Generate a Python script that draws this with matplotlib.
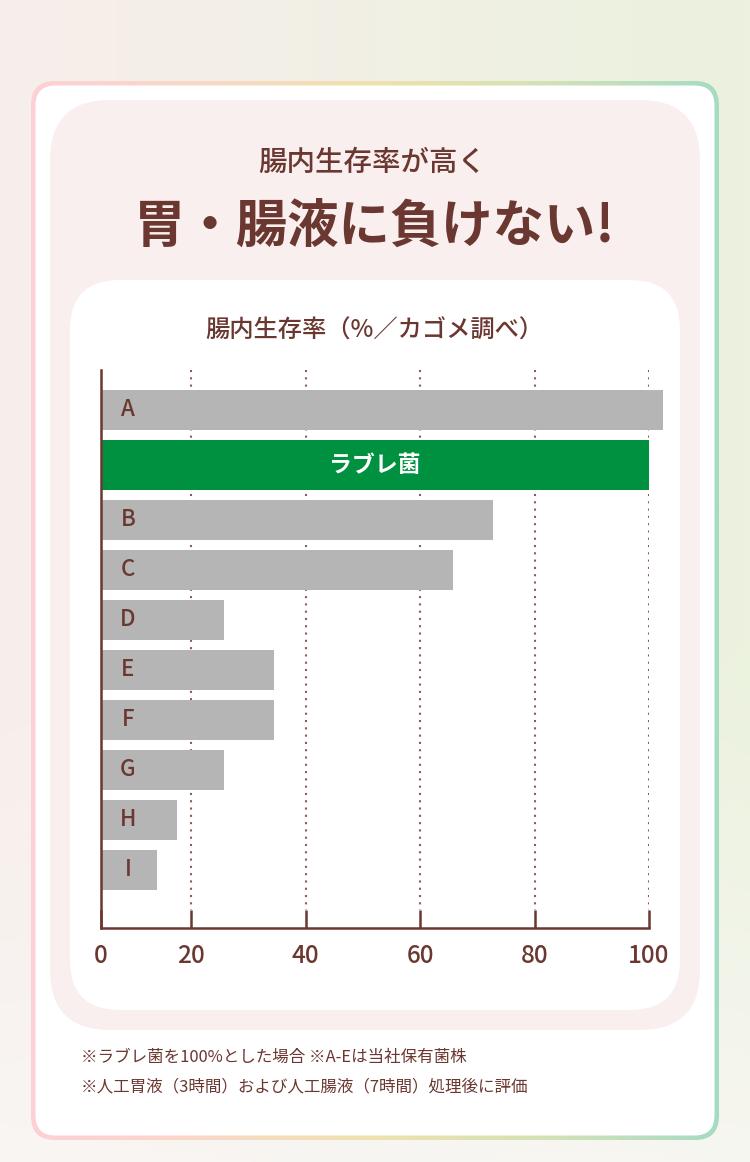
import numpy as np
import matplotlib
matplotlib.use('Agg')
import matplotlib.pyplot as plt
from matplotlib.patches import FancyBboxPatch
from matplotlib.colors import LinearSegmentedColormap, to_rgb

plt.rcParams['font.family'] = ['Noto Sans CJK JP', 'DejaVu Sans']

# data
labels = ['A', 'ラブレ菌', 'B', 'C', 'D', 'E', 'F', 'G', 'H', 'I']
survival = [102.4, 100, 72.8, 65.8, 25.7, 34.5, 34.5, 25.7, 16.9, 12.4]
xticks = [0, 20, 40, 60, 80, 100]
headline = '腸内生存率が高く'
title = '胃・腸液に負けない!'
chart_title = '腸内生存率（%／カゴメ調べ）'
notes = ['※ラブレ菌を100%とした場合 ※A-Eは当社保有菌株',
         '※人工胃液（3時間）および人工腸液（7時間）処理後に評価']

BROWN = '#6b3731'
GREY = '#b5b5b5'
GREEN = '#009140'
W, H = 750, 1162

fig = plt.figure(figsize=(W / 100, H / 100), dpi=100)
bg = fig.add_axes([0, 0, 1, 1])

# soft page background
xs = np.linspace(0, 1, 200)
ys = np.linspace(0, 1, 300)
c_left, c_right, c_bot = (np.array(to_rgb(c)) for c in ('#f7eeeb', '#ebf2de', '#f9f7f4'))
horiz = c_left[None, :] * (1 - xs[:, None]) + c_right[None, :] * xs[:, None]
t = (np.clip((ys - 0.55) / 0.45, 0, 1) ** 1.2 * 0.85)
img = horiz[None] * (1 - t[:, None, None]) + c_bot[None, None, :] * t[:, None, None]
bg.imshow(img, extent=(0, W, H, 0), aspect='auto', zorder=0)


def rbox(x0, y0, x1, y1, r, **kw):
    return FancyBboxPatch((x0 + r, y0 + r), x1 - x0 - 2 * r, y1 - y0 - 2 * r,
                          boxstyle=f'round,pad={r}', **kw)


# gradient frame
frame = rbox(31, 81, 719, 1140, 24, facecolor='none', edgecolor='none')
bg.add_patch(frame)
border_cmap = LinearSegmentedColormap.from_list(
    'frame', ['#fdd0d6', '#f9d8c6', '#efe1ad', '#d3e2b6', '#a6dbc3'])
grad = bg.imshow(np.linspace(0, 1, 256)[None, :], cmap=border_cmap,
                 extent=(31, 719, 1140, 81), aspect='auto', zorder=1)
grad.set_clip_path(frame)
bg.add_patch(rbox(35.5, 85.5, 714.5, 1135.5, 20, facecolor='white', edgecolor='none', zorder=2))
bg.add_patch(rbox(50, 100, 700, 1030, 60, facecolor='#f9efee', edgecolor='none', zorder=3))
bg.add_patch(rbox(70, 280, 680, 1010, 50, facecolor='white', edgecolor='none', zorder=4))

bg.set_xlim(0, W)
bg.set_ylim(H, 0)
bg.axis('off')

bg.text(372, 162, headline, ha='center', va='center', fontsize=20.5,
        fontweight='medium', color=BROWN, zorder=5)
bg.text(375, 226, title, ha='center', va='center', fontsize=37,
        fontweight='bold', color=BROWN, zorder=5)
bg.text(374, 331, chart_title, ha='center', va='center', fontsize=17.5,
        fontweight='medium', color=BROWN, zorder=5)
for i, note in enumerate(notes):
    bg.text(81, 1057 + 30 * i, note, ha='left', va='center', fontsize=11.9,
            color=BROWN, zorder=5)

# chart
ax = fig.add_axes([101 / W, 1 - 928 / H, 548 / W, 558 / H])
ax.patch.set_alpha(0)

# first 0-20 segment is drawn narrower than the rest
f1 = 90 / 548 * 100


def fwd(x):
    x = np.asarray(x, float)
    return np.where(x <= 20, x * f1 / 20, f1 + (x - 20) * (100 - f1) / 80)


def inv(u):
    u = np.asarray(u, float)
    return np.where(u <= f1, u * 20 / f1, 20 + (u - f1) * 80 / (100 - f1))


ax.set_xscale('function', functions=(fwd, inv))

heights = [50 if lab == 'ラブレ菌' else 40 for lab in labels]
tops = np.cumsum([20] + [h + 10 for h in heights[:-1]])
centers = tops + np.array(heights) / 2
colors = [GREEN if lab == 'ラブレ菌' else GREY for lab in labels]

ax.vlines(xticks[1:], 0, 540, colors='#8b5b55', linestyles=(0, (1, 2.5)),
          linewidth=1.5, zorder=0)
ax.barh(centers, survival, height=heights, color=colors, left=0,
        zorder=2, clip_on=False)

for lab, yc in zip(labels, centers):
    if lab == 'ラブレ菌':
        ax.text(0.5, yc, lab, transform=ax.get_yaxis_transform(), ha='center',
                va='center', fontsize=16.5, fontweight='bold', color='white', zorder=3)
    else:
        ax.text(27 / 548, yc, lab, transform=ax.get_yaxis_transform(), ha='center',
                va='center', fontsize=16, fontweight='medium', color=BROWN, zorder=3)

ax.set_xlim(0, 100)
ax.set_ylim(558, 0)
ax.set_xticks(xticks)
ax.set_xticklabels([str(v) for v in xticks], fontweight='medium')
ax.set_yticks([])
ax.tick_params(axis='x', direction='in', length=13, width=1.8, color=BROWN,
               labelsize=17.5, labelcolor=BROWN, pad=11)
for side in ('top', 'right'):
    ax.spines[side].set_visible(False)
for side in ('left', 'bottom'):
    ax.spines[side].set_color(BROWN)
    ax.spines[side].set_linewidth(1.8)

fig.savefig('out.png', dpi=100)
